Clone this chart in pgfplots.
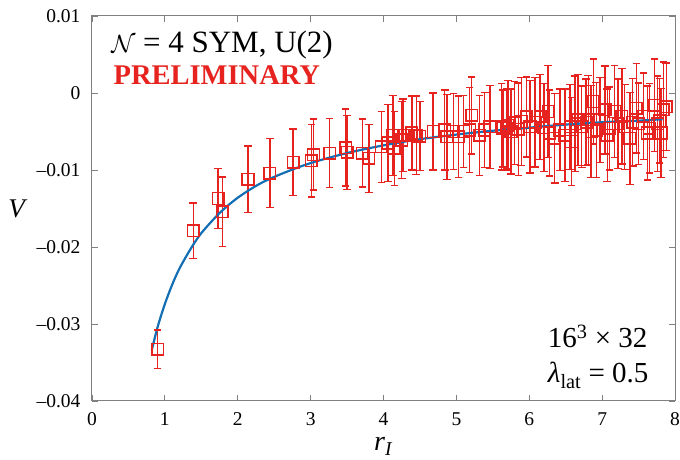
\documentclass[border=0pt]{standalone}
\usepackage{fontspec}
\setmainfont{Liberation Serif}
\usepackage{pgfplots}
\usepackage{pgfplotstable}
\pgfplotsset{compat=1.18}
\definecolor{myred}{RGB}{230,35,30}
\definecolor{myblue}{RGB}{20,110,180}
\definecolor{framegray}{RGB}{128,128,128}

% measured points: r, V
\pgfplotstableread{
x y
0.90 -0.0333
1.39 -0.0179
1.73 -0.0137
1.79 -0.0154
2.14 -0.0112
2.44 -0.0104
2.76 -0.0090
3.01 -0.0088
3.04 -0.0080
3.26 -0.0078
3.48 -0.0071
3.50 -0.0077
3.71 -0.0078
3.80 -0.0085
3.97 -0.0070
4.06 -0.0065
4.13 -0.0055
4.15 -0.0072
4.25 -0.0061
4.27 -0.0055
4.39 -0.0052
4.45 -0.0055
4.50 -0.0056
4.68 -0.0050
4.84 -0.0048
4.87 -0.0057
4.96 -0.0050
5.03 -0.0057
5.10 -0.0050
5.18 -0.0048
5.21 -0.0029
5.32 -0.0055
5.39 -0.0048
5.46 -0.0044
5.62 -0.0044
5.64 -0.0046
5.69 -0.0046
5.71 -0.0042
5.75 -0.0050
5.80 -0.0039
5.85 -0.0047
5.89 -0.0037
5.96 -0.0031
6.01 -0.0044
6.08 -0.0038
6.15 -0.0031
6.20 -0.0045
6.26 -0.0024
6.28 -0.0052
6.35 -0.0059
6.42 -0.0048
6.49 -0.0055
6.56 -0.0044
6.58 -0.0063
6.63 -0.0040
6.67 -0.0035
6.72 -0.0044
6.78 -0.0038
6.81 -0.0035
6.85 -0.0050
6.88 -0.0011
6.92 -0.0048
6.97 -0.0035
7.04 -0.0022
7.07 -0.0055
7.10 -0.0046
7.17 -0.0024
7.22 -0.0040
7.27 -0.0030
7.31 -0.0044
7.38 -0.0059
7.42 -0.0038
7.47 -0.0020
7.50 -0.0040
7.57 -0.0030
7.62 -0.0052
7.65 -0.0046
7.72 -0.0016
7.76 -0.0040
7.79 -0.0036
7.81 -0.0052
7.84 -0.0022
7.88 -0.0018
}\datatable

% fitted curve
\pgfplotstableread{
x y
0.82 -0.0334
0.90 -0.0304
1.00 -0.0274
1.10 -0.0249
1.20 -0.0228
1.35 -0.0203
1.50 -0.0182
1.75 -0.0156
2.00 -0.0136
2.30 -0.0118
2.60 -0.0105
3.00 -0.0091
3.50 -0.0078
4.00 -0.0068
4.50 -0.0060
5.00 -0.0054
5.50 -0.0049
6.00 -0.0045
6.50 -0.0041
7.00 -0.0038
7.50 -0.0036
7.83 -0.0034
}\fittable

\begin{document}
\begin{tikzpicture}
\begin{axis}[
  scale only axis,
  width=583pt, height=385pt,
  at={(0,0)}, anchor=south west,
  xmin=0, xmax=8, ymin=-0.04, ymax=0.01,
  scaled y ticks=false,
  xtick={0,1,2,3,4,5,6,7,8},
  xticklabels={0,1,2,3,4,5,6,7,8},
  ytick={-0.04,-0.03,-0.02,-0.01,0,0.01},
  yticklabels={\textendash0.04,\textendash0.03,\textendash0.02,\textendash0.01,0,0.01},
  tick align=inside,
  major tick length=6pt,
  axis line style={draw=framegray, line width=1pt},
  every tick/.style={draw=framegray, line width=0.9pt},
  ticklabel style={font=\fontsize{19.5}{22}\selectfont, text=black},
  xticklabel style={yshift=-8pt},
  yticklabel style={xshift=-8pt},
  xlabel={\textit{r}\textsubscript{\textit{I}}},
  xlabel style={font=\fontsize{28}{32}\selectfont, text=black, at={(axis description cs:0.5,-0.118)}, anchor=center},
  ylabel={\textit{V}},
  ylabel style={font=\fontsize{27}{30}\selectfont, text=black, rotate=-90, at={(axis description cs:-0.127,0.5)}, anchor=center},
  clip=false,
  unbounded coords=jump,
]
% error bars: one path of segments (V - dV to V + dV), caps as marks
\addplot[color=myred, line width=1.4pt, mark=-, mark size=3.8pt,
  mark options={line width=1.4pt}] coordinates {
(0.90,-0.0358) (0.90,-0.0308) (0.90,nan)
(1.39,-0.0215) (1.39,-0.0143) (1.39,nan)
(1.73,-0.0176) (1.73,-0.0098) (1.73,nan)
(1.79,-0.0199) (1.79,-0.0109) (1.79,nan)
(2.14,-0.0155) (2.14,-0.0069) (2.14,nan)
(2.44,-0.0149) (2.44,-0.0059) (2.44,nan)
(2.76,-0.0133) (2.76,-0.0047) (2.76,nan)
(3.01,-0.0135) (3.01,-0.0041) (3.01,nan)
(3.04,-0.0126) (3.04,-0.0034) (3.04,nan)
(3.26,-0.0123) (3.26,-0.0033) (3.26,nan)
(3.48,-0.0121) (3.48,-0.0021) (3.48,nan)
(3.50,-0.0125) (3.50,-0.0029) (3.50,nan)
(3.71,-0.0122) (3.71,-0.0034) (3.71,nan)
(3.80,-0.0129) (3.80,-0.0041) (3.80,nan)
(3.97,-0.0116) (3.97,-0.0024) (3.97,nan)
(4.06,-0.0115) (4.06,-0.0015) (4.06,nan)
(4.13,-0.0107) (4.13,-0.0003) (4.13,nan)
(4.15,-0.0120) (4.15,-0.0024) (4.15,nan)
(4.25,-0.0111) (4.25,-0.0011) (4.25,nan)
(4.27,-0.0102) (4.27,-0.0008) (4.27,nan)
(4.39,-0.0100) (4.39,-0.0004) (4.39,nan)
(4.45,-0.0106) (4.45,-0.0004) (4.45,nan)
(4.50,-0.0101) (4.50,-0.0011) (4.50,nan)
(4.68,-0.0100) (4.68,0.0000) (4.68,nan)
(4.84,-0.0100) (4.84,0.0004) (4.84,nan)
(4.87,-0.0112) (4.87,-0.0002) (4.87,nan)
(4.96,-0.0099) (4.96,-0.0001) (4.96,nan)
(5.03,-0.0110) (5.03,-0.0004) (5.03,nan)
(5.10,-0.0097) (5.10,-0.0003) (5.10,nan)
(5.18,-0.0103) (5.18,0.0007) (5.18,nan)
(5.21,-0.0079) (5.21,0.0021) (5.21,nan)
(5.32,-0.0107) (5.32,-0.0003) (5.32,nan)
(5.39,-0.0097) (5.39,0.0001) (5.39,nan)
(5.46,-0.0098) (5.46,0.0010) (5.46,nan)
(5.62,-0.0100) (5.62,0.0012) (5.62,nan)
(5.64,-0.0096) (5.64,0.0004) (5.64,nan)
(5.69,-0.0098) (5.69,0.0006) (5.69,nan)
(5.71,-0.0100) (5.71,0.0016) (5.71,nan)
(5.75,-0.0105) (5.75,0.0005) (5.75,nan)
(5.80,-0.0093) (5.80,0.0015) (5.80,nan)
(5.85,-0.0107) (5.85,0.0013) (5.85,nan)
(5.89,-0.0094) (5.89,0.0020) (5.89,nan)
(5.96,-0.0083) (5.96,0.0021) (5.96,nan)
(6.01,-0.0104) (6.01,0.0016) (6.01,nan)
(6.08,-0.0096) (6.08,0.0020) (6.08,nan)
(6.15,-0.0086) (6.15,0.0024) (6.15,nan)
(6.20,-0.0102) (6.20,0.0012) (6.20,nan)
(6.26,-0.0084) (6.26,0.0036) (6.26,nan)
(6.28,-0.0108) (6.28,0.0004) (6.28,nan)
(6.35,-0.0117) (6.35,-0.0001) (6.35,nan)
(6.42,-0.0101) (6.42,0.0005) (6.42,nan)
(6.49,-0.0115) (6.49,0.0005) (6.49,nan)
(6.56,-0.0099) (6.56,0.0011) (6.56,nan)
(6.58,-0.0120) (6.58,-0.0006) (6.58,nan)
(6.63,-0.0102) (6.63,0.0022) (6.63,nan)
(6.67,-0.0094) (6.67,0.0024) (6.67,nan)
(6.72,-0.0097) (6.72,0.0009) (6.72,nan)
(6.78,-0.0094) (6.78,0.0018) (6.78,nan)
(6.81,-0.0093) (6.81,0.0023) (6.81,nan)
(6.85,-0.0110) (6.85,0.0010) (6.85,nan)
(6.88,-0.0066) (6.88,0.0044) (6.88,nan)
(6.92,-0.0110) (6.92,0.0014) (6.92,nan)
(6.97,-0.0090) (6.97,0.0020) (6.97,nan)
(7.04,-0.0079) (7.04,0.0035) (7.04,nan)
(7.07,-0.0115) (7.07,0.0005) (7.07,nan)
(7.10,-0.0100) (7.10,0.0008) (7.10,nan)
(7.17,-0.0084) (7.17,0.0036) (7.17,nan)
(7.22,-0.0098) (7.22,0.0018) (7.22,nan)
(7.27,-0.0092) (7.27,0.0032) (7.27,nan)
(7.31,-0.0099) (7.31,0.0011) (7.31,nan)
(7.38,-0.0119) (7.38,0.0001) (7.38,nan)
(7.42,-0.0095) (7.42,0.0019) (7.42,nan)
(7.47,-0.0078) (7.47,0.0038) (7.47,nan)
(7.50,-0.0093) (7.50,0.0013) (7.50,nan)
(7.57,-0.0086) (7.57,0.0026) (7.57,nan)
(7.62,-0.0113) (7.62,0.0009) (7.62,nan)
(7.65,-0.0104) (7.65,0.0012) (7.65,nan)
(7.72,-0.0076) (7.72,0.0044) (7.72,nan)
(7.76,-0.0102) (7.76,0.0022) (7.76,nan)
(7.79,-0.0091) (7.79,0.0019) (7.79,nan)
(7.81,-0.0110) (7.81,0.0006) (7.81,nan)
(7.84,-0.0084) (7.84,0.0040) (7.84,nan)
(7.88,-0.0075) (7.88,0.0039) (7.88,nan)
};
% squares
\addplot[color=myred, only marks, mark=square, mark size=5.8pt,
  mark options={line width=1.5pt}]
  table[x=x, y=y] {\datatable};
\addplot[color=myblue, line width=2.2pt, smooth, no marks] table[x=x, y=y] {\fittable};
\node[anchor=base west, text=black, font=\fontsize{31}{34}\selectfont] at (rel axis cs:0.027,0.904) {$\mathcal{N}$ = 4 SYM, U(2)};
\node[anchor=base west, font=\fontsize{28.5}{32}\selectfont\bfseries, text=myred] at (rel axis cs:0.031,0.823) {PRELIMINARY};
\node[anchor=base west, text=black, font=\fontsize{29}{32}\selectfont] at (rel axis cs:0.776,0.140) {16\textsuperscript{3} × 32};
\node[anchor=base west, text=black, font=\fontsize{29}{32}\selectfont] at (rel axis cs:0.776,0.047) {\textit{λ}\textsubscript{lat} = 0.5};
\end{axis}
\pgfresetboundingbox
\useasboundingbox (-92pt,-59pt) rectangle (588pt,401pt);
\end{tikzpicture}
\end{document}
